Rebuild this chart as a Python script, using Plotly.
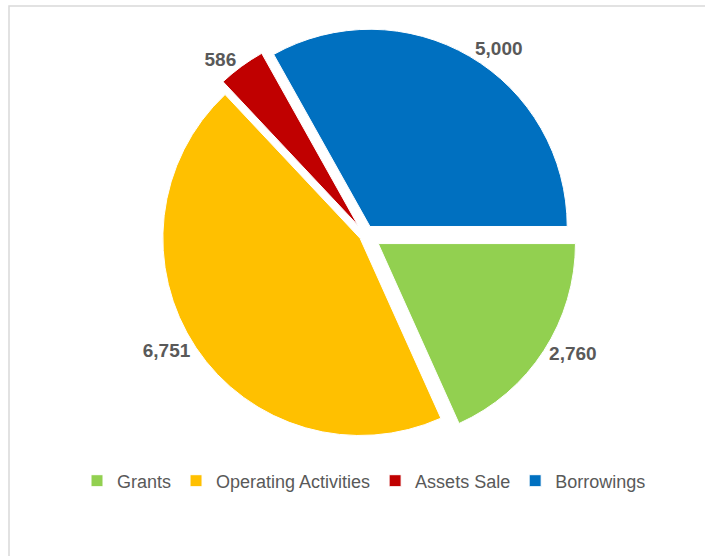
import plotly.graph_objects as go

categories = ["Grants", "Operating Activities", "Assets Sale", "Borrowings"]
values = [2760, 6751, 586, 5000]
colors = ["#92D050", "#FFC000", "#C00000", "#0070C0"]

W, H = 705, 556

fig = go.Figure(go.Pie(
    labels=categories,
    values=values,
    sort=False,
    direction="clockwise",
    rotation=90,
    pull=[0.08, 0.03, 0.06, 0.05],
    marker=dict(colors=colors, line=dict(color="white", width=1)),
    texttemplate="%{value:,}",
    textposition="outside",
    outsidetextfont=dict(family="Liberation Sans, Arial, sans-serif", size=19, color="#595959", weight="bold"),
    domain=dict(x=[90/W, 640/W], y=[1-448/H, 1-22/H]),
    hoverinfo="label+value+percent",
))

fig.update_layout(
    width=W, height=H,
    margin=dict(l=0, r=0, t=0, b=0, autoexpand=False),
    paper_bgcolor="white",
    plot_bgcolor="white",
    showlegend=True,
    legend=dict(
        orientation="h",
        x=364/W, xanchor="center",
        y=1-481/H, yanchor="middle",
        font=dict(family="Liberation Sans, Arial, sans-serif", size=18, color="#595959"),
        itemwidth=30,
        traceorder="normal",
    ),
    shapes=[dict(type="rect", xref="paper", yref="paper",
                 x0=9/W, y0=1-6/H, x1=1.02, y1=-0.02,
                 line=dict(color="#d9d9d9", width=1.5))],
)

fig.write_html("out.html")
